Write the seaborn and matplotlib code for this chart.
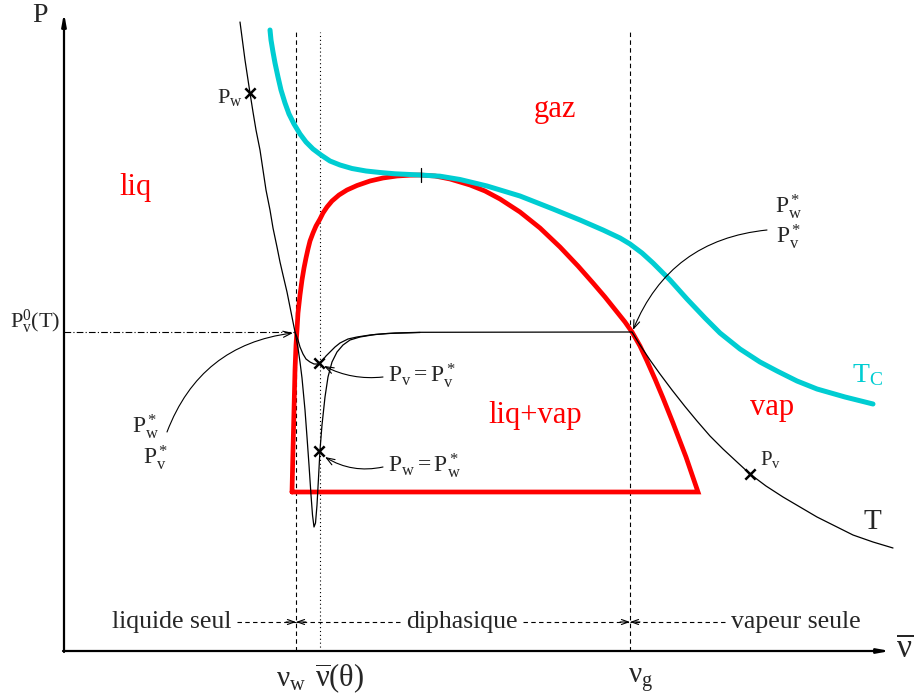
import matplotlib
matplotlib.use('Agg')
import matplotlib.pyplot as plt
import seaborn as sns
import pandas as pd

sns.set_style('white')
plt.rcParams['font.family'] = ['Liberation Serif', 'DejaVu Serif']
plt.rcParams['mathtext.fontset'] = 'custom'
plt.rcParams['mathtext.rm'] = 'Liberation Serif'
plt.rcParams['mathtext.it'] = 'Liberation Serif:italic'
plt.rcParams['mathtext.bf'] = 'Liberation Serif:bold'

# ---------------- data (specific volume v, pressure P; schematic units) -------------
# isotherm T (with deep metastable dip)
iso_v = [176, 181, 186, 189, 192, 196, 199, 202, 206, 209, 213, 216, 219, 223, 227, 231,
         234, 236, 238, 241, 243, 245, 247, 248.5, 250, 251.5, 253, 254.5, 256, 258, 261, 264,
         268, 273, 279, 286, 296, 311, 331, 356, 568,
         576, 586, 596, 608, 621, 633, 646, 659, 673, 686, 702, 719, 736, 753, 771, 789, 809, 829]
iso_P = [629, 591, 558, 539, 521, 501, 481, 461, 441, 423, 404, 389, 376, 359, 339, 319,
         303, 289, 273, 241, 214, 186, 156, 136, 124, 128, 146, 173, 201, 226, 254, 274,
         289, 299, 306, 311, 314, 316.5, 318, 318.7, 319,
         306, 291, 277, 261, 244.5, 230, 215, 202, 189, 177, 165, 154, 144, 134, 125, 116, 109, 103]
# vapour-pressure branch (shallow dip)
pv_v = [231, 234, 236, 239, 242, 246, 250, 254, 258, 262, 266, 271, 276, 284, 293, 306, 323, 356]
pv_P = [319, 311, 304, 297, 292, 289, 287, 287, 290, 295, 299, 304, 308, 312, 314, 316, 317.5, 318.5]
# coexistence dome (closed)
dome_v = [228, 229, 230, 231, 232, 233, 234, 236, 238, 240, 242, 244, 246, 249, 252, 256, 259,
          263, 268, 275, 283, 293, 306, 319, 333, 346, 356, 371, 386, 406, 421, 436, 456, 476,
          496, 514, 529, 541, 553, 561, 568, 576, 583, 591, 599, 609, 622, 634, 228]
dome_P = [159, 201, 241, 281, 306, 321, 338, 356, 371, 383, 393, 402, 410, 418, 425, 432, 438,
          444, 450, 456, 461, 465.5, 470, 473, 475, 475.8, 476, 475, 472, 466, 460, 452, 439, 423,
          404, 385, 368, 354, 339, 329, 319, 305, 290, 272, 253, 228, 194, 159, 159]
# critical isotherm Tc
tc_v = [206, 207, 209, 211, 214, 217, 221, 225, 230, 236, 242, 249, 257, 266, 276, 288, 302,
        316, 331, 356, 376, 396, 423, 456, 489, 516, 539, 556, 566, 578, 589, 606, 623, 641,
        656, 676, 696, 713, 733, 753, 781, 809]
tc_P = [621, 611, 599, 588, 574, 561, 548, 537, 527, 517, 509, 502, 496, 490, 486, 482.5, 480,
        478.5, 477.2, 476, 474.8, 471.5, 465, 455, 442, 431, 421, 413, 407, 398, 388, 371, 352,
        333, 318, 302, 289, 280, 270, 262, 254, 247]

v_w, v_bar, v_g = 232, 256, 566
P_v0 = 319
v_crit, P_crit = 357, 476

mark_v = [186, 686, 255, 255]
mark_P = [558, 177, 288, 200]

# ---------------- figure ----------------
fig = plt.figure(figsize=(9.15, 7.0), dpi=100)
ax = fig.add_axes([0, 0, 1, 1])

# axes with arrows
ax.annotate('', xy=(0, 638), xytext=(0, -1),
            arrowprops=dict(arrowstyle='-|>,head_length=0.7,head_width=0.13', lw=1.6, color='black',
                            shrinkA=0, shrinkB=0))
ax.annotate('', xy=(826, 0), xytext=(-1, 0),
            arrowprops=dict(arrowstyle='-|>,head_length=0.7,head_width=0.13', lw=1.6, color='black',
                            shrinkA=0, shrinkB=0))

# guide lines
ax.plot([0, v_w], [P_v0, P_v0], color='black', lw=0.8, ls=(0, (6, 2, 1, 2)))
ax.plot([v_w, v_w], [0, 619], color='black', lw=0.8, ls=(0, (4, 3)))
ax.plot([v_g, v_g], [0, 619], color='black', lw=0.8, ls=(0, (4, 3)))
ax.plot([v_bar, v_bar], [0, 619], color='black', lw=0.8, ls=(0, (1, 2.5)))

# curves
sns.lineplot(data=pd.DataFrame({'v': dome_v, 'P': dome_P}), x='v', y='P', sort=False,
             estimator=None, color='#ff0000', lw=3.4, ax=ax, solid_joinstyle='miter')
sns.lineplot(data=pd.DataFrame({'v': tc_v, 'P': tc_P}), x='v', y='P', sort=False,
             estimator=None, color='#00cdd2', lw=3.6, ax=ax, solid_joinstyle='round')
sns.lineplot(data=pd.DataFrame({'v': iso_v, 'P': iso_P}), x='v', y='P', sort=False,
             estimator=None, color='black', lw=0.9, ax=ax)
sns.lineplot(data=pd.DataFrame({'v': pv_v, 'P': pv_P}), x='v', y='P', sort=False,
             estimator=None, color='black', lw=0.9, ax=ax)
ax.plot([v_crit, v_crit], [P_crit - 7, P_crit + 7], color='black', lw=0.9)

sns.scatterplot(x=mark_v, y=mark_P, marker='x', s=55, color='black', linewidth=1.8, ax=ax, zorder=5)

ax.set_xlim(-64, 851)
ax.set_ylim(-49, 651)
ax.axis('off')

# ---------------- texts ----------------
ax.text(-24, 636, 'P', fontsize=20, ha='center', va='center')
ax.text(841, 2, r'$\overline{\mathrm{ν}}$', fontsize=24, ha='center', va='center')
ax.text(-29, 329, r'$\mathrm{P_v^0(T)}$', fontsize=16, ha='center', va='center')
ax.text(179, 553, r'$\mathrm{P_w}$', fontsize=16, ha='right', va='center')
ax.text(696, 191, r'$\mathrm{P_v}$', fontsize=15, ha='left', va='center')

red = '#ff0000'
ax.text(491, 541, 'gaz', fontsize=22, color=red, ha='center', va='center')
ax.text(71, 463, 'liq', fontsize=22, color=red, ha='center', va='center')
ax.text(471, 236, 'liq+vap', fontsize=22, color=red, ha='center', va='center')
ax.text(708, 244, 'vap', fontsize=22, color=red, ha='center', va='center')
ax.text(804, 276, r'$\mathrm{T_C}$', fontsize=20, color='#00cdd2', ha='center', va='center')
ax.text(808, 129, 'T', fontsize=21, ha='center', va='center')

ax.text(324, 275, r'$\mathrm{P_v = P_v^*}$', fontsize=17, ha='left', va='center')
ax.text(324, 185, r'$\mathrm{P_w = P_w^*}$', fontsize=17, ha='left', va='center')
ax.text(82, 224, r'$\mathrm{P_w^*}$', fontsize=17, ha='center', va='center')
ax.text(92, 193, r'$\mathrm{P_v^*}$', fontsize=17, ha='center', va='center')
ax.text(725, 444, r'$\mathrm{P_w^*}$', fontsize=17, ha='center', va='center')
ax.text(725, 414, r'$\mathrm{P_v^*}$', fontsize=17, ha='center', va='center')

ax.text(227, -29, r'$\mathrm{ν_w}$', fontsize=21, ha='center', va='center')
ax.text(276, -27, r'$\overline{\mathrm{ν}}\mathrm{(θ)}$', fontsize=22, ha='center', va='center')
ax.text(577, -29, r'$\mathrm{ν_g}$', fontsize=21, ha='center', va='center')

ax.text(108, 29, 'liquide seul', fontsize=18.5, ha='center', va='center')
ax.text(398, 29, 'diphasique', fontsize=18.5, ha='center', va='center')
ax.text(732, 29, 'vapeur seule', fontsize=18.5, ha='center', va='center')

# annotation arrows
ap = dict(arrowstyle='->,head_length=0.6,head_width=0.22', lw=0.8, color='black',
          shrinkA=0, shrinkB=0)
ax.annotate('', xy=(260, 285), xytext=(319, 274),
            arrowprops=dict(ap, connectionstyle='arc3,rad=-0.15'))
ax.annotate('', xy=(261, 194), xytext=(319, 184),
            arrowprops=dict(ap, connectionstyle='arc3,rad=-0.2'))
ax.annotate('', xy=(229, 318), xytext=(103, 219),
            arrowprops=dict(ap, connectionstyle='arc3,rad=-0.3'))
ax.annotate('', xy=(569, 321), xytext=(703, 421),
            arrowprops=dict(ap, connectionstyle='arc3,rad=0.3'))

# region arrows (dashed)
seg_start = [173, 336, 459, 661]
seg_end = [v_w, v_w, v_g, v_g]
for s, e in zip(seg_start, seg_end):
    ax.plot([s, e], [29, 29], color='black', lw=0.8, ls=(0, (4, 3)))
    d = 10 if e > s else -10
    ax.annotate('', xy=(e, 29), xytext=(e - d, 29),
                arrowprops=dict(arrowstyle='->,head_length=0.5,head_width=0.18', lw=0.8,
                                color='black', shrinkA=0, shrinkB=0))

fig.savefig('out.png', dpi=100)
